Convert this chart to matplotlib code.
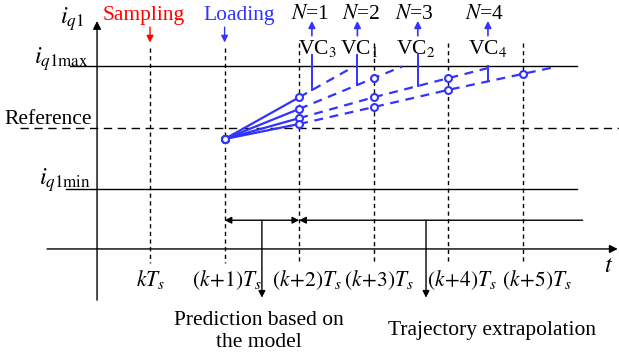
import matplotlib.pyplot as plt
import numpy as np

plt.rcParams['font.family'] = ['Liberation Serif', 'DejaVu Serif']
plt.rcParams['mathtext.fontset'] = 'stix'

BLUE = '#3333ff'
RED = '#ff0000'

# time instants (in sampling periods after kTs) and their labels
steps = [0, 1, 2, 3, 4, 5]
step_labels = [r'$kT_s$', r'$(k\!+\!1)T_s$', r'$(k\!+\!2)T_s$',
               r'$(k\!+\!3)T_s$', r'$(k\!+\!4)T_s$', r'$(k\!+\!5)T_s$']
label_x = [0, 1.03, 2.10, 3.07, 4.18, 5.18]

# current levels (normalised, reference = 0)
i_max = 1.0
i_ref = 0.0
i_min = -1.0

# predicted trajectories for the 4 voltage candidates, starting at (k+1)Ts
start_step = 1
traj_vals = [
    [-0.18, 0.50],
    [-0.18, 0.31, 0.81],
    [-0.18, 0.16, 0.50, 0.81],
    [-0.18, 0.065, 0.34, 0.62, 0.88],
]

# voltage vector labels, where they point on each trajectory
vc_names = ['VC$_3$', 'VC$_1$', 'VC$_2$', 'VC$_4$']
vc_step = [2.17, 2.78, 3.59, 4.53]
vc_label_x = [2.25, 2.80, 3.56, 4.53]
n_labels = ['$N$=1', '$N$=2', '$N$=3', '$N$=4']
n_label_x = [2.14, 2.83, 3.55, 4.48]

fig = plt.figure(figsize=(6.19, 3.61), dpi=100)
ax = fig.add_axes([0, 0, 1, 1])
ax.set_xlim(-2.011, 6.287)
ax.set_ylim(-3.789, 2.081)
ax.axis('off')

fs = 15.5
k_line = dict(color='black', lw=1.0)

# axes
ax.annotate('', xy=(6.27, -1.967), xytext=(-1.38, -1.967),
            arrowprops=dict(arrowstyle='-|>', color='black', lw=1.0,
                            mutation_scale=12, shrinkA=0, shrinkB=0))
ax.annotate('', xy=(-0.71, 1.74), xytext=(-0.71, -2.80),
            arrowprops=dict(arrowstyle='-|>', color='black', lw=1.0,
                            mutation_scale=12, shrinkA=0, shrinkB=0))

# limit lines and reference
ax.plot([-1.07, 5.72], [i_max, i_max], **k_line)
ax.plot([-1.13, 5.72], [i_min, i_min], **k_line)
ax.plot([-1.74, 6.29], [i_ref, i_ref], color='black', lw=1.0, dashes=(6, 4))

# vertical dashed time lines
for s in steps:
    top = 1.30 if s < 2 else 1.38
    ax.plot([s, s], [top, -2.20], color='black', lw=1.0, dashes=(3, 2.5))

for s, lab, lx in zip(steps, step_labels, label_x):
    ax.text(lx, -2.47, lab, fontsize=fs, ha='center', va='center')
ax.text(6.15, -2.25, '$t$', fontsize=fs + 2, ha='center', va='center')

# y labels
ax.text(-1.21, 1.77, r'$i_{q1}$', fontsize=fs + 2, ha='left', va='center')
ax.text(-1.56, 1.12, r'$i_{q1\mathrm{max}}$', fontsize=fs + 2, ha='left', va='center')
ax.text(-1.95, 0.13, 'Reference', fontsize=fs, ha='left', va='center')
ax.text(-1.49, -0.84, r'$i_{q1\mathrm{min}}$', fontsize=fs + 2, ha='left', va='center')

# sampling / loading
ax.text(-0.09, 1.83, 'Sampling', fontsize=fs, color=RED, ha='center', va='center')
ax.text(1.19, 1.83, 'Loading', fontsize=fs, color=BLUE, ha='center', va='center')
for s, c in [(0, RED), (1, BLUE)]:
    ax.annotate('', xy=(s, 1.39), xytext=(s, 1.64),
                arrowprops=dict(arrowstyle='-|>', color=c, lw=1.0,
                                mutation_scale=10, shrinkA=0, shrinkB=0))

# trajectories
for vals in traj_vals:
    xs = np.arange(len(vals)) + start_step
    ax.plot(xs[:2], vals[:2], color=BLUE, lw=1.6)
    # extrapolate last segment to the upper limit
    slope = vals[-1] - vals[-2]
    x_end = xs[-1] + (i_max - vals[-1]) / slope
    dx = list(xs[1:]) + [x_end]
    dy = list(vals[1:]) + [i_max]
    ax.plot(dx, dy, color=BLUE, lw=1.6, dashes=(4, 3))
    ax.plot(xs, vals, 'o', ms=5, mfc='white', mec=BLUE, mew=1.5, zorder=5)

# VC markers
for i, (name, vs, lx, nlab, nx) in enumerate(zip(vc_names, vc_step, vc_label_x,
                                                    n_labels, n_label_x)):
    vals = traj_vals[i]
    xs = np.arange(len(vals)) + start_step
    y0 = np.interp(vs, list(xs) + [xs[-1] + 1],
                   list(vals) + [vals[-1] + vals[-1] - vals[-2]])
    top = i_max if i == 3 else 1.19
    ax.plot([vs, vs], [y0, top], color=BLUE, lw=1.4)
    ax.text(lx, 1.29, name, fontsize=fs, ha='center', va='center')
    ax.annotate('', xy=(vs, 1.74), xytext=(vs, 1.50),
                arrowprops=dict(arrowstyle='-|>', color=BLUE, lw=1.2,
                                mutation_scale=10, shrinkA=0, shrinkB=0))
    ax.text(nx, 1.85, nlab, fontsize=fs, ha='center', va='center')

# prediction / extrapolation spans
ax.annotate('', xy=(2, -1.5), xytext=(1, -1.5),
            arrowprops=dict(arrowstyle='<|-|>', color='black', lw=1.0,
                            mutation_scale=10, shrinkA=0, shrinkB=0))
ax.annotate('', xy=(2, -1.5), xytext=(5.80, -1.5),
            arrowprops=dict(arrowstyle='-|>', color='black', lw=1.0,
                            mutation_scale=10, shrinkA=0, shrinkB=0))
for x0 in [1.50, 3.70]:
    ax.annotate('', xy=(x0, -2.76), xytext=(x0, -1.5),
                arrowprops=dict(arrowstyle='-|>', color='black', lw=1.0,
                                mutation_scale=10, shrinkA=0, shrinkB=0))

ax.text(1.46, -3.31, 'Prediction based on\nthe model', fontsize=fs,
        ha='center', va='center', linespacing=1.2)
ax.text(4.58, -3.29, 'Trajectory extrapolation', fontsize=fs,
        ha='center', va='center')

fig.savefig('out.png', dpi=100)
